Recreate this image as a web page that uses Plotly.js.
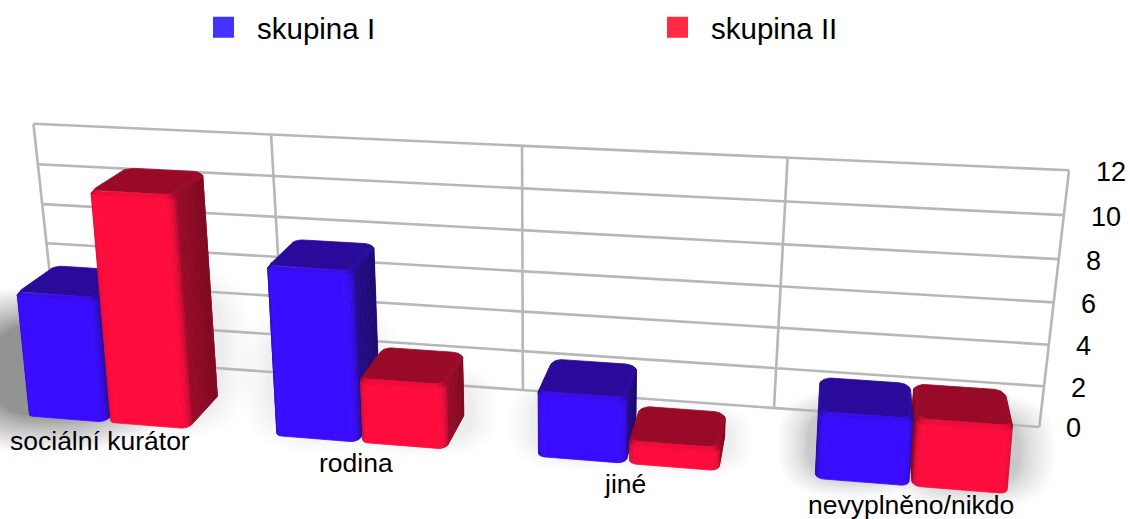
<!DOCTYPE html>
<html><head><meta charset="utf-8">
<script src="https://cdn.plot.ly/plotly-3.0.1.min.js"></script>
<style>html,body{margin:0;padding:0;background:#fff;overflow:hidden}</style>
</head><body><div id="chart"></div>
<script>
const categories = ["sociální kurátor","rodina","jiné","nevyplněno/nikdo"];
const seriesNames = ["skupina I","skupina II"];
const valuesI = [6,8,3,3];
const valuesII = [11,3,1,3];
const zTicks = [0,2,4,6,8,10,12];
const legendColors = ["#4433ff","#ff2a44"];
const palette = [
 {front:[58,12,255],top:[42,10,154],side:[34,10,128]},
 {front:[255,12,62],top:[153,10,40],side:[143,10,37]}];
const G=0.17, S=0.005;
// perspective of the back wall (category, value) and of the bars (category, value, depth)
const H=[218.7737,-2.255577,58.84745,6.727415,-19.93678,356.7923,-0.02534587,-0.004190741];
const P=[228.1296,-2.032173,-40.20786,26.00652,7.228061,-20.39757,14.21476,378.9176,-0.02623789,-0.003569399,-0.04706782];
function proj(c,v,d){const w=P[8]*c+P[9]*v+P[10]*d+1;return [(P[0]*c+P[1]*v+P[2]*d+P[3])/w,(P[4]*c+P[5]*v+P[6]*d+P[7])/w];}
function wall(c,v){const w=H[6]*c+H[7]*v+1;return [(H[0]*c+H[1]*v+H[2])/w,(H[3]*c+H[4]*v+H[5])/w];}
const VPX=P[2]/P[10];

const mix=(a,b,t)=>a.map((x,i)=>x+(b[i]-x)*t);
const rgb=c=>`rgb(${c.map(x=>Math.round(Math.max(0,Math.min(255,x)))).join(",")})`;
const traces=[];
function poly(pts,col,lw){const xs=[],ys=[];pts.forEach(p=>{xs.push(p[0]);ys.push(p[1]);});xs.push(xs[0]);ys.push(ys[0]);
 traces.push({type:"scatter",mode:"lines",x:xs,y:ys,fill:"toself",fillcolor:col,line:{color:col,width:lw===undefined?0.8:lw},showlegend:false,hoverinfo:"skip"});}
function plan(c0,c1,d0,d1,rc,rd){
 const out=[];const N=5,ST=12;
 function corner(cx,cy,a0){for(let i=0;i<=N;i++){const a=a0+i/N*Math.PI/2;out.push({c:cx+rc*Math.cos(a),d:cy+rd*Math.sin(a),nc:Math.cos(a),nd:Math.sin(a)});}}
 function straight(x0,y0,x1,y1,nc,nd){for(let i=1;i<ST;i++){const t=i/ST;out.push({c:x0+(x1-x0)*t,d:y0+(y1-y0)*t,nc,nd});}}
 corner(c1-rc,d0+rd,-Math.PI/2);straight(c1,d0+rd,c1,d1-rd,1,0);
 corner(c1-rc,d1-rd,0);
 corner(c0+rc,d1-rd,Math.PI/2);straight(c0,d1-rd,c0,d0+rd,-1,0);
 corner(c0+rc,d0+rd,Math.PI);
 return out;
}
function area(p){let s=0;for(let i=0;i<p.length;i++){const a=p[i],b=p[(i+1)%p.length];s+=a[0]*b[1]-b[0]*a[1];}return s;}
function bar(c0,c1,v,pal){
 const rc=0.03,rd=0.12,ins=0.01,insd=0.04,bz=0.16;
 const o=plan(c0,c1,0,1,rc,rd),n=o.length,top=v-bz;
 const inner=plan(c0+ins,c1-ins,insd,1-insd,rc,rd);
 const facets=[];
 for(let i=0;i<n;i++){const a=o[i],b=o[(i+1)%n];
  const q=[proj(a.c,0,a.d),proj(b.c,0,b.d),proj(b.c,top,b.d),proj(a.c,top,a.d)];
  const nd=(a.nd+b.nd)/2,midd=(a.d+b.d)/2;
  let col;
  if(nd>=0){const t=Math.pow(Math.max(0,nd),0.7);const sh=mix(pal.side.map(x=>x*.85),pal.side.map(x=>x*1.1),midd);col=mix(sh,pal.front,t);}
  else col=pal.side;
  facets.push({q,col:rgb(col)});
  const ia=inner[i],ib=inner[(i+1)%n];
  const r=[proj(a.c,top,a.d),proj(b.c,top,b.d),proj(ib.c,v,ib.d),proj(ia.c,v,ia.d)];
  const bcol=nd>0?mix(mix(pal.side,pal.top,.5),pal.front,Math.pow(nd,1.5)*.85):pal.top;
  facets.push({q:r,col:rgb(bcol)});
 }
 poly(inner.map(p=>proj(p.c,v,p.d)),rgb(pal.top));
 const sign=area(o.map(p=>proj(p.c,0,p.d)));
 facets.forEach(f=>{if(area(f.q)*sign>=0)poly(f.q,f.col);});
}
// soft shadows: dx, alpha, radius per bar (style only)
const shadowStyle=[[-34,.5,60],[4,.1,30],[-6,.1,30],[8,.1,26],[-6,.08,24],[6,.09,24],[-8,.2,30],[12,.22,36]];
const list=[];
categories.forEach((_,i)=>{list.push({c0:i+G,c1:i+.5-S,v:valuesI[i],pal:palette[0]});list.push({c0:i+.5+S,c1:i+1-G,v:valuesII[i],pal:palette[1]});});
list.forEach((b,idx)=>{
 const corners=[proj(b.c0,0,1),proj(b.c1,0,1),proj(b.c1,0,0),proj(b.c0,0,0),proj(b.c0,b.v*.5,0),proj(b.c1,b.v*.5,0)];
 const xs=corners.map(p=>p[0]),ys=corners.map(p=>p[1]);
 const x0=Math.min(...xs),x1=Math.max(...xs),y0=Math.min(...ys),y1=Math.max(...ys)-6;
 const [dx,al,R]=shadowStyle[idx],K=18;
 for(let k=K;k>=1;k--){const r=R*Math.pow(k/K,1.5),pts=[];
  const cx=(x0+x1)/2+dx,cy=(y0+y1)/2,a=(x1-x0)/2+r,bb=(y1-y0)/2+r*.6;
  for(let s=0;s<48;s++){const t=s/48*2*Math.PI,ct=Math.cos(t),st=Math.sin(t);
   pts.push([cx+a*Math.sign(ct)*Math.pow(Math.abs(ct),.7),cy+bb*Math.sign(st)*Math.pow(Math.abs(st),.7)]);}
  poly(pts,`rgba(0,0,0,${(al/K).toFixed(4)})`,0);
 }
});
// grid
const gx=[],gy=[];
zTicks.forEach(t=>{const a=wall(0,t),b=wall(4,t);gx.push(a[0],b[0],null);gy.push(a[1],b[1],null);});
for(let i=0;i<=categories.length;i++){const a=wall(i,0),b=wall(i,12);gx.push(a[0],b[0],null);gy.push(a[1],b[1],null);}
traces.push({type:"scatter",mode:"lines",x:gx,y:gy,line:{color:"#b7b7b7",width:2.6},showlegend:false,hoverinfo:"skip"});
list.forEach(b=>b.k=Math.abs(proj((b.c0+b.c1)/2,0,1)[0]-VPX));
list.slice().sort((a,b)=>b.k-a.k).forEach(b=>bar(b.c0,b.c1,b.v,b.pal));

seriesNames.forEach((n,i)=>traces.push({type:"scatter",mode:"markers",x:[null],y:[null],name:n,
  marker:{symbol:"square",size:16,color:legendColors[i],line:{width:5,color:legendColors[i]}}}));

const labelY=[441,463,484,505], labelX=[100,356,624.5,911];
const ann=[];
categories.forEach((c,i)=>{ann.push({x:labelX[i],y:labelY[i],xref:"x",yref:"y",text:c,showarrow:false,font:{size:26.5,color:"#000"}});});
zTicks.forEach(t=>{const p=wall(4,t);ann.push({x:p[0]+25,y:p[1]+1.5,xref:"x",yref:"y",text:String(t),showarrow:false,xanchor:"left",font:{size:27,color:"#000"}});});

const layout={width:1130,height:519,margin:{l:0,r:0,t:0,b:0},paper_bgcolor:"#fff",plot_bgcolor:"#fff",
 font:{family:"Liberation Sans, Arial, sans-serif",color:"#000"},
 xaxis:{visible:false,range:[0,1130],fixedrange:true},yaxis:{visible:false,range:[519,0],fixedrange:true},hovermode:false,
 legend:{orientation:"h",x:190/1130,xanchor:"left",y:1-27.5/519,yanchor:"middle",entrywidth:382,entrywidthmode:"pixels",itemwidth:57,
  font:{size:29.5},bgcolor:"rgba(0,0,0,0)"},annotations:ann};
Plotly.newPlot("chart",traces,layout,{displayModeBar:false,staticPlot:true});
</script></body></html>
